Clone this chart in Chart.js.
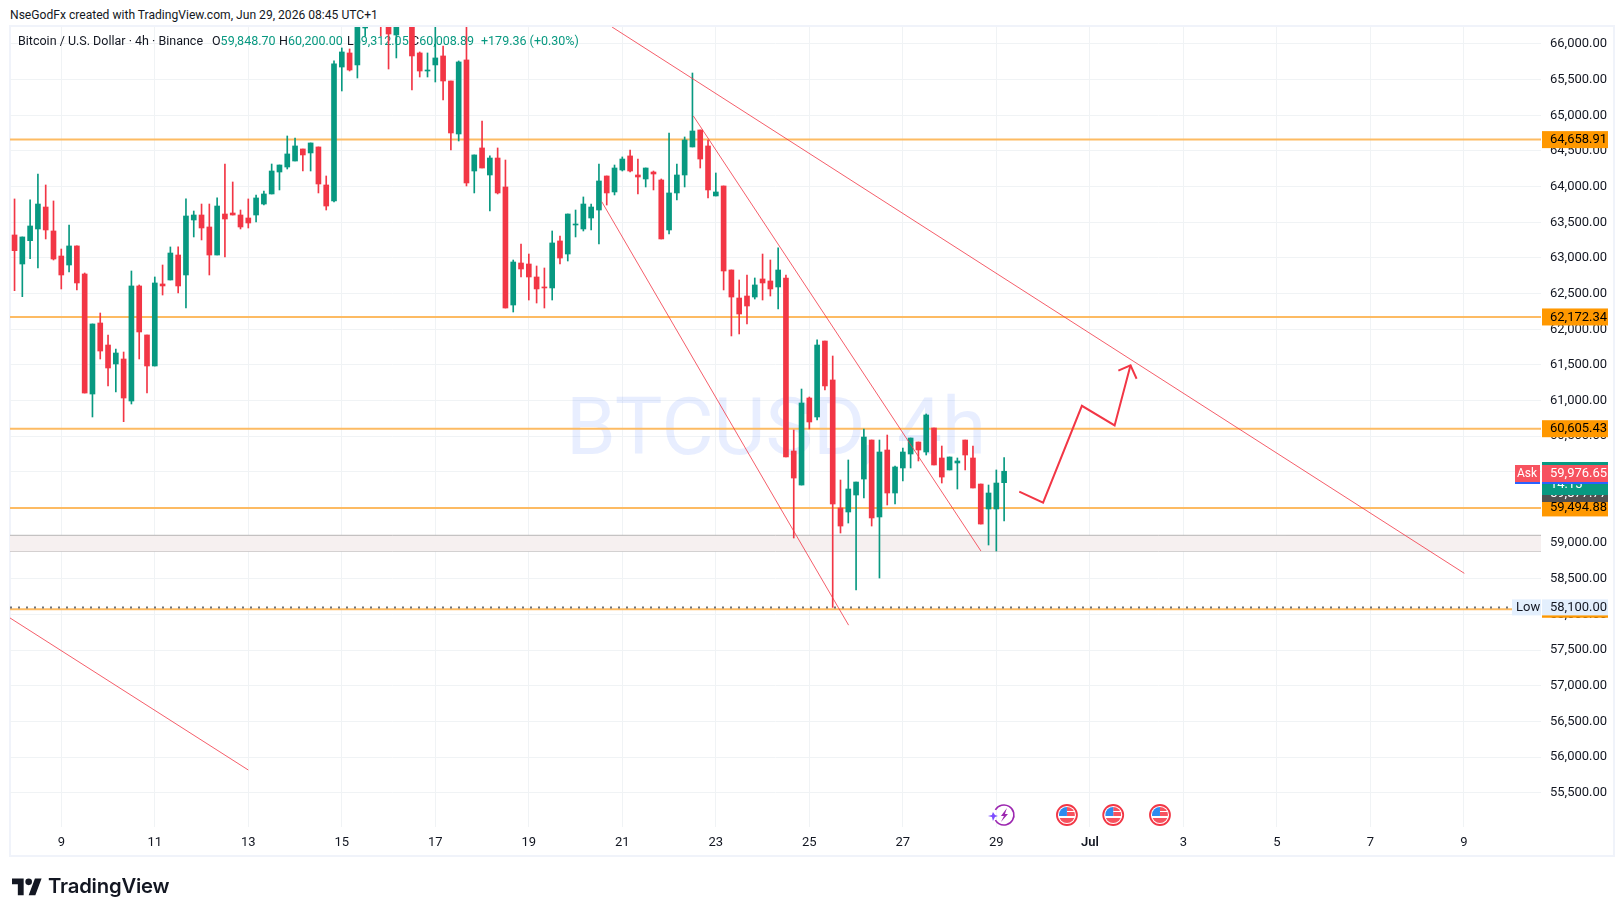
<!DOCTYPE html>
<html><head><meta charset="utf-8">
<script src="https://cdn.jsdelivr.net/npm/chart.js@4"></script>
<style>
html,body{margin:0;padding:0;background:#fff;width:1623px;height:916px;overflow:hidden;font-family:Roboto,sans-serif;color:#131722}
#frame{position:absolute;left:9px;top:25px;width:1602px;height:828px;border:2px solid #f0f3fa}
#wrap{position:absolute;left:0;top:0;width:1623px;height:916px}
canvas{position:absolute;left:0;top:0}
.t{position:absolute;white-space:pre;font-size:12.1px;line-height:16px}
#logoText{position:absolute;left:48px;top:872px;font:600 20.3px/28px Inter,sans-serif;color:#131722;letter-spacing:-.2px}
#logo{position:absolute;left:12px;top:875px}
</style></head><body>
<div id="frame"></div>
<div class="t" style="left:10px;top:7px">NseGodFx created with TradingView.com, Jun 29, 2026 08:45 UTC+1</div>
<div id="wrap"><canvas id="c" width="1623" height="916"></canvas></div>
<svg id="logo" width="30" height="22" viewBox="0 0 36 26"><path fill="#131722" d="M14 24H7V11H0V4h14v20zM28 24h-8l7.5-20h8L28 24z"/><circle fill="#131722" cx="20" cy="8" r="4"/></svg>
<div id="logoText">TradingView</div>
<script>
const opens=[63322,62915,63242,63406,63714,63378,63027,62901,63168,62775,61092,62088,61779,61513,61583,60994,62607,61920,61485,62635,62691,63041,62761,63532,63602,63434,63041,63616,63630,63602,63560,63602,63756,63897,64205,64275,64359,64528,64472,64556,64023,63799,65677,65874,65706,66224,66900,66500,66500,66126,66500,66500,65874,65621,65706,65832,65481,64738,65776,64219,64542,64163,64401,63995,62340,62929,62915,62733,62593,62579,63238,63055,63462,63406,63560,63672,64149,63925,64233,64430,64163,64107,64205,64093,63392,63911,64163,64556,64794,64570,63869,64009,62831,62438,62466,62452,62705,62677,62593,62719,60293,59816,61036,60770,61835,61289,59494,59438,59676,59900,60447,59368,60307,59704,60055,60251,60419,60279,60616,60195,60027,60125,60447,60195,59830,59480,59480,59848.70];
const closes=[63102,63294,63448,63756,63392,62985,62761,63168,62649,61106,62074,61695,61457,61667,61036,62607,61962,61485,62649,62607,63069,62607,63588,63602,63420,63041,63728,63546,63602,63434,63490,63841,63897,64219,64303,64458,64570,64444,64612,64037,63728,65720,65888,65635,66400,66300,66600,66400,66140,66400,66800,65832,65621,65635,65804,65481,64752,65748,64051,64444,64261,64401,63911,62298,62943,62845,62733,62565,62579,63210,62999,63616,63476,63756,63714,64079,63911,64261,64387,64219,64135,64261,64177,63266,63911,64163,64654,64780,64387,63953,63925,62817,62452,62214,62326,62621,62649,62565,62831,60209,59914,60966,60700,61779,61205,59550,59241,59760,59858,60489,59354,60279,59704,60069,60279,60475,60307,60798,60097,59928,60209,60153,60237,59774,59269,59704,59844,60008.89];
const highs=[63827,63294,63813,64177,64023,63799,63125,63462,63168,62789,62074,62228,61920,61723,61681,62817,62621,61920,62733,62901,63154,63154,63827,63658,63756,63756,63841,64317,64065,63672,63827,63883,63939,64317,64303,64710,64682,64528,64612,64556,64149,65762,65944,65930,66500,66400,67000,66600,66600,66500,66900,66600,65888,65874,66234,65972,65481,65762,66400,64444,64920,64430,64542,64373,62971,63196,63055,62887,62859,63378,63308,63616,63672,63855,63756,64317,64149,64303,64416,64514,64387,64261,64219,64107,64752,64317,64696,65593,64794,64654,64191,64009,62831,62691,62761,62719,63055,62971,63140,62761,60588,61162,61050,61850,61835,61625,59886,60167,59858,60602,60447,60447,60517,60083,60335,60475,60419,60812,60616,60363,60209,60195,60447,60363,59830,59816,60027,60200];
const lows=[62541,62457,62990,62859,63266,62971,62565,62803,62551,61106,60770,61583,61205,61120,60704,60952,61583,61106,61485,62480,62691,62509,62298,63294,63252,62761,63041,63013,63602,63406,63420,63504,63742,63897,63953,64247,64359,64219,64219,63911,63672,63785,65341,65621,65523,66112,66400,66112,65649,65804,66300,65355,65537,65537,65467,65215,64514,64640,64009,63911,64261,63658,63897,62298,62242,62733,62410,62368,62298,62410,62915,62957,63294,63378,63392,63196,63742,63883,64219,64205,63897,63995,63953,63266,63336,63813,63995,64556,64261,63841,63869,62551,61906,61934,62074,62424,62410,62466,62284,60209,59073,59816,60602,60728,61148,58100,59143,59283,58344,59634,59241,58512,59536,59550,59872,60055,60153,60237,60097,59844,60027,59760,60027,59774,59269,58975,58891,59312.05];
const firstDay=8, candlesPerDay=6;
const tickDays=[9,11,13,15,17,19,21,23,25,27,29,31,33,35,37,39];
const tickLabels=['9','11','13','15','17','19','21','23','25','27','29','Jul','3','5','7','9'];
const priceTicks=[55500,56000,56500,57000,57500,58000,58500,59000,59500,60000,60500,61000,61500,62000,62500,63000,63500,64000,64500,65000,65500,66000];
const dayMin=7.903, dayMax=40.65, priceMin=55021, priceMax=66238;
const levels=[64658.91,62172.34,60605.43,59494.88,58074];
const zoneTop=59111, zoneBottom=58887, lowPrice=58100;
const trendA=[[20.78,66238],[39.01,58578]];
const trendB=[[22.52,64990],[28.67,58891]];
const trendC=[[20.56,63789],[25.84,57851]];
const trendD=[[7.903,57952],[13.0,55820]];
const arrowPath=[[29.49,59723],[30.0,59568],[30.83,60927],[31.53,60652],[31.87,61494]];
const arrowHead=[[31.61,61421],[31.87,61494],[32.0,61306]];
const eventDays=[29.12,30.51,31.5,32.5];
const UP='#089981', DOWN='#F23645';

const dayOf=i=>firstDay+i/candlesPerDay;
const pts=a=>a.map(p=>({x:p[0],y:p[1]}));
const col=opens.map((o,i)=>closes[i]>=o?UP:DOWN);
const lineDs=(data,color,width,order,extra)=>Object.assign({type:'line',data:pts(data),borderColor:color,borderWidth:width,pointRadius:0,tension:0,order,spanGaps:true},extra||{});

const datasets=[
 {type:'bar',label:'wicks',data:highs.map((h,i)=>({x:dayOf(i),y:[lows[i],h]})),backgroundColor:col,barThickness:1,grouped:false,order:6},
 {type:'bar',label:'bodies',data:opens.map((o,i)=>({x:dayOf(i),y:[Math.min(o,closes[i]),Math.max(o,closes[i])]})),backgroundColor:col,barThickness:5,grouped:false,order:5,minBarLength:1},
 lineDs(trendA,'rgba(242,54,69,.8)',1,1),
 lineDs(trendB,'rgba(242,54,69,.8)',1,1),
 lineDs(trendC,'rgba(242,54,69,.8)',1,1),
 lineDs(trendD,'rgba(242,54,69,.8)',1,1),
 lineDs(arrowPath,'#F23645',2,0),
 lineDs(arrowHead,'#F23645',2,0),
 lineDs([[dayMin,lowPrice],[dayMax,lowPrice]],'#6f7278',2,7,{borderDash:[2,6]}),
 lineDs([[dayMin,zoneTop],[dayMax,zoneTop]],'#b7b5b5',1,9,{fill:{target:{value:zoneBottom}},backgroundColor:'#f6f0f0'}),
 lineDs([[dayMin,zoneBottom],[dayMax,zoneBottom]],'#b7b5b5',1,9),
];
levels.forEach(v=>datasets.push(lineDs([[dayMin,v],[dayMax,v]],'#FDBB63',2,8)));

const box=(c,x0,x1,y0,y1,bg)=>{c.fillStyle=bg;c.fillRect(x0,y0,x1-x0,y1-y0)};
const txt=(c,s,x,y,color)=>{c.fillStyle=color;c.fillText(s,x,y)};
const overlay={id:'overlay',
 beforeDatasetsDraw(ch){const c=ch.ctx;c.save();
  c.font='400 80px Roboto';c.fillStyle='rgba(41,98,255,.11)';c.textAlign='center';c.textBaseline='middle';
  c.fillText('BTCUSD, 4h',776,434);
  c.font='12.5px Roboto';c.textAlign='left';
  const K='#131722',G='#089981',ly=42;
  txt(c,'Bitcoin / U.S. Dollar · 4h · Binance',18,ly,K);
  [['O','59,848.70',212],['H','60,200.00',279],['L','59,312.05',347],['C','60,008.89',411]].forEach(p=>{
    txt(c,p[0],p[2],ly,K);txt(c,p[1],p[2]+c.measureText(p[0]).width,ly,G);});
  txt(c,'+179.36 (+0.30%)',481,ly,G);
  c.restore();},
 afterDraw(ch){const c=ch.ctx,a=ch.chartArea,Y=ch.scales.y,X=ch.scales.x;c.save();
  c.font='13px Roboto';c.textBaseline='middle';c.textAlign='left';
  const L=a.right+1,R=a.right+67,TX=a.right+9;
  const tag=(v,s)=>{const y=Y.getPixelForValue(v);box(c,L,R,y-8.5,y+8.5,'#FF9800');txt(c,s,TX,y+.5,'#000')};
  tag(levels[0],'64,658.91');tag(levels[1],'62,172.34');tag(levels[2],'60,605.43');
  // low tags
  const yo=Y.getPixelForValue(levels[4]);box(c,L,R,yo-8.5,yo+8.5,'#FF9800');
  const yl=Y.getPixelForValue(lowPrice);
  box(c,L,R,yl-8,yl+8,'#E3EFFD');txt(c,'58,100.00',TX,yl+.5,'#131722');
  box(c,a.right-29,a.right,yl-8,yl+8,'#E3EFFD');txt(c,'Low',a.right-25,yl+.5,'#131722');
  // stacked last-price tags
  const yb=Y.getPixelForValue(levels[3]);box(c,L,R,yb-8.5,yb+8.5,'#FF9800');txt(c,'59,494.88',TX,yb,'#000');
  box(c,L,R,486,502,'#505050');txt(c,'59,877.77',TX,494,'#fff');
  box(c,L,R,462,495,UP);txt(c,'14:15',TX,485,'#fff');
  box(c,L,R,467,484,'#2962FF');box(c,a.right-26,a.right-1,467,484,'#2962FF');
  box(c,L,R,465,482,'#F7525F');txt(c,'59,976.65',TX,473.5,'#fff');
  box(c,a.right-26,a.right-1,465,482,'#F7525F');
  c.font='12px Roboto';txt(c,'Ask',a.right-24,473.5,'#fff');c.font='13px Roboto';
  // event icons
  const iy=815;
  eventDays.forEach((d,i)=>{const x=X.getPixelForValue(d);
   if(i===0){c.strokeStyle='#9C27B0';c.lineWidth=1.6;c.beginPath();c.arc(x+2,iy,10,-2.6,2.6,false);c.stroke();
    c.fillStyle='#9C27B0';c.beginPath();c.moveTo(x+5,iy-7);c.lineTo(x-1,iy+1);c.lineTo(x+2,iy+1);c.lineTo(x-1,iy+7);c.lineTo(x+6,iy-1);c.lineTo(x+3,iy-1);c.closePath();c.fill();
    c.fillStyle='#7C4DFF';c.beginPath();c.moveTo(x-9,iy-3);c.lineTo(x-7,iy);c.lineTo(x-4,iy+1);c.lineTo(x-7,iy+2);c.lineTo(x-9,iy+6);c.lineTo(x-10,iy+2);c.lineTo(x-14,iy+1);c.lineTo(x-10,iy);c.closePath();c.fill();
   } else {
    c.fillStyle='#fff';c.beginPath();c.arc(x,iy,10,0,7);c.fill();
    c.save();c.beginPath();c.arc(x,iy,8,0,7);c.clip();
    box(c,x-8,x+8,iy-8,iy+8,'#fff');box(c,x-8,x+8,iy+3,iy+8,'#F7525F');box(c,x,x+8,iy-3,iy+1,'#F7525F');box(c,x,x+8,iy-8,iy-4,'#F7525F');box(c,x-8,x,iy-8,iy+1,'#2E8BEF');
    c.restore();
    c.strokeStyle='#F23645';c.lineWidth=1.8;c.beginPath();c.arc(x,iy,10,0,7);c.stroke();
   }});
  c.restore();}
};

new Chart(document.getElementById('c'),{
 type:'bar',
 data:{datasets},
 plugins:[overlay],
 options:{
  responsive:false,animation:false,devicePixelRatio:1,
  layout:{padding:{left:10,right:10,top:27,bottom:61}},
  plugins:{legend:{display:false},tooltip:{enabled:false}},
  scales:{
   x:{type:'linear',min:dayMin,max:dayMax,offset:false,
      afterFit:s=>{s.height=28},
      afterBuildTicks:s=>{s.ticks=tickDays.map(v=>({value:v}))},
      grid:{color:'#f0f3f5',offset:false,drawTicks:false},border:{display:false},
      ticks:{autoSkip:false,maxRotation:0,padding:8,color:'#131722',font:c=>({family:'Roboto',size:13,weight:c.index===11?'600':'400'}),
        callback:(v,i)=>tickLabels[i]}},
   y:{type:'linear',position:'right',min:priceMin,max:priceMax,
      afterFit:s=>{s.width=72},
      afterBuildTicks:s=>{s.ticks=priceTicks.map(v=>({value:v}))},
      grid:{color:'#f0f3f5',drawTicks:false},border:{display:false},
      ticks:{autoSkip:false,padding:9,color:'#131722',font:{family:'Roboto',size:13},
        callback:v=>v.toLocaleString('en-US',{minimumFractionDigits:2,maximumFractionDigits:2})}}
  }
 }
});
</script>
</body></html>
